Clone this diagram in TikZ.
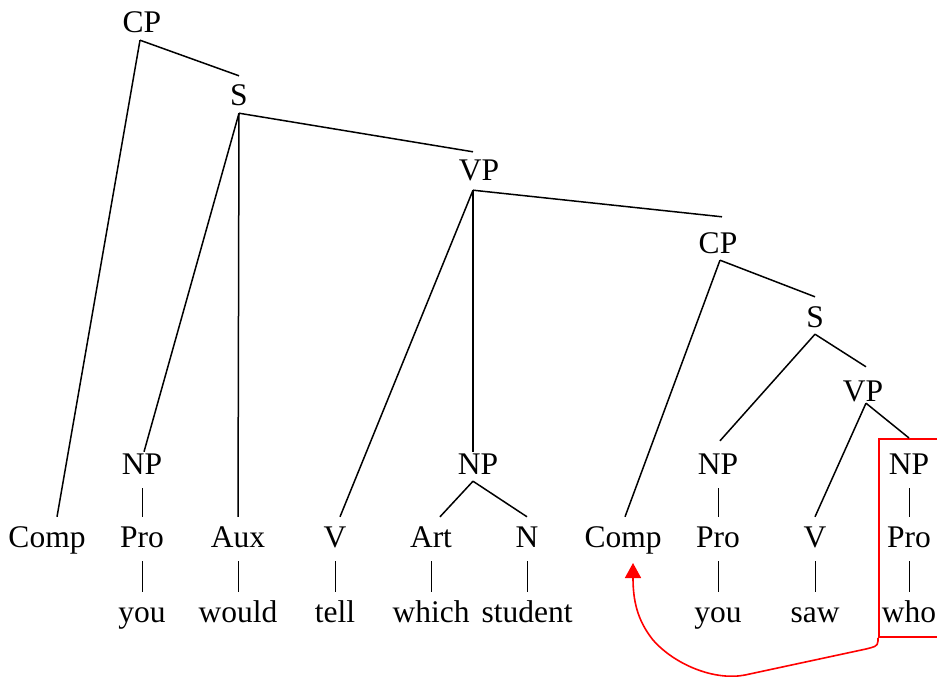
\documentclass[tikz,border=0pt]{standalone}
\usepackage{fontspec}
\setmainfont{Liberation Serif}
\usetikzlibrary{arrows.meta}
\tikzset{
  lbl/.style={font=\fontsize{31.5}{36}\selectfont, text height=30pt, text depth=7pt, inner sep=0pt, anchor=base},
  branch/.style={line width=1.5pt, black},
  bar/.style={line width=1pt, black, shorten <=7pt},
  redbox/.style={draw=red, line width=1.8pt, inner sep=0pt},
  move/.style={draw=red, line width=1.6pt, -{Triangle[length=15pt,width=16pt]}}
}
\begin{document}
\begin{tikzpicture}[x=1pt,y=-1pt]
\useasboundingbox (0,0) rectangle (937,677);
% phrase nodes
\node[lbl] (cp1) at (142,33) {CP};
\node[lbl] (s1) at (239,106) {S};
\node[lbl] (vp1) at (479,180) {VP};
\node[lbl] (cp2) at (718,253) {CP};
\node[lbl] (s2) at (815,327) {S};
\node[lbl] (vp2) at (863,401) {VP};
\node[lbl] (np1) at (142,474) {NP};
\node[lbl] (np2) at (478,474) {NP};
\node[lbl] (np3) at (718,474) {NP};
\node[lbl] (np4) at (909,474) {NP};
% category row
\node[lbl] (comp1) at (47,547) {Comp};
\node[lbl] (pro1) at (142,547) {Pro};
\node[lbl] (aux) at (238,547) {Aux};
\node[lbl] (v1) at (335,547) {V};
\node[lbl] (art) at (431,547) {Art};
\node[lbl] (n) at (527,547) {N};
\node[lbl] (comp2) at (623,547) {Comp};
\node[lbl] (pro2) at (718,547) {Pro};
\node[lbl] (v2) at (815,547) {V};
\node[lbl] (pro3) at (909,547) {Pro};
% words
\node[lbl] (w1) at (142,622) {you};
\node[lbl] (w2) at (238,622) {would};
\node[lbl] (w3) at (335,622) {tell};
\node[lbl] (w4) at (431,622) {which};
\node[lbl] (w5) at (527,622) {student};
\node[lbl] (w6) at (718,622) {you};
\node[lbl] (w7) at (815,622) {saw};
\node[lbl] (w8) at (909,622) {who};
% red box
\node[redbox, anchor=north west, minimum width=80pt, minimum height=198pt] (box) at (878,438) {};
% branches
\draw[branch] ([xshift=-2pt]cp1.south) -- (s1.north);
\draw[branch] ([xshift=-2pt]cp1.south) -- ([xshift=10pt]comp1.north);
\draw[branch] (s1.south) -- ([xshift=-6pt,yshift=-2pt]vp1.north);
\draw[branch] (s1.south) -- ([xshift=2pt,yshift=-8pt]np1.north);
\draw[branch] (s1.south) -- (aux.north);
\draw[branch] ([xshift=-6pt,yshift=-3pt]vp1.south) -- ([xshift=4pt,yshift=6pt]cp2.north);
\draw[branch] ([xshift=-6pt,yshift=-3pt]vp1.south) -- ([xshift=5pt]v1.north);
\draw[branch] ([xshift=-6pt,yshift=-3pt]vp1.south) -- ([xshift=-5pt,yshift=-8pt]np2.north);
\draw[branch] ([xshift=-5pt]np2.south) -- ([xshift=9pt]art.north);
\draw[branch] ([xshift=-5pt]np2.south) -- (n.north);
\draw[branch] ([xshift=2pt]cp2.south) -- ([xshift=2pt]comp2.north);
\draw[branch] ([xshift=2pt]cp2.south) -- (s2.north);
\draw[branch] (s2.south) -- ([xshift=2pt,yshift=3pt]np3.north);
\draw[branch] (s2.south) -- ([xshift=3pt,yshift=4pt]vp2.north);
\draw[branch] ([xshift=3pt,yshift=5pt]vp2.south) -- (v2.north);
\draw[branch] ([xshift=3pt,yshift=5pt]vp2.south) -- (box.north -| np4.base);
% unary bars
\draw[bar] (np1.south) -- (pro1.north);
\draw[bar] (pro1.south) -- (w1.north);
\draw[bar] (aux.south) -- (w2.north);
\draw[bar] (v1.south) -- (w3.north);
\draw[bar] (art.south) -- (w4.north);
\draw[bar] (n.south) -- (w5.north);
\draw[bar] (np3.south) -- (pro2.north);
\draw[bar] (pro2.south) -- (w6.north);
\draw[bar] (v2.south) -- (w7.north);
\draw[bar] (np4.south) -- (pro3.north);
\draw[bar] (pro3.south) -- (w8.north);
% movement arrow
\draw[move] (box.south west) -- (878,641) .. controls (878,647) and (873,647) .. (866,649)
  -- (745,675) .. controls (715,681) and (675,665) .. (653,640)
  .. controls (637,620) and (633,600) .. ([shift={(10pt,-16pt)}]comp2.base);
\end{tikzpicture}
\end{document}
